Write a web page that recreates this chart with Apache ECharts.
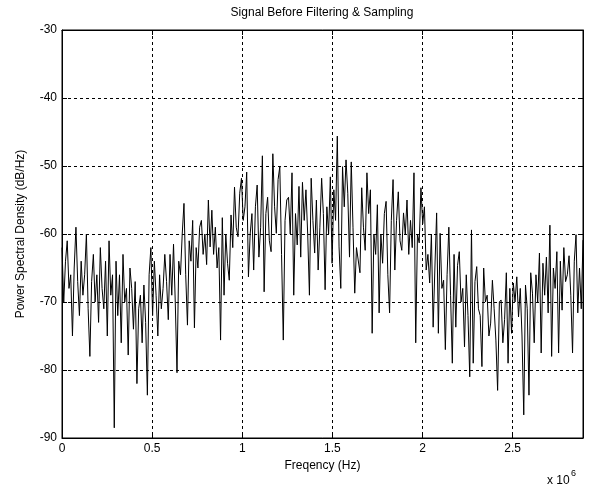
<!DOCTYPE html>
<html>
<head>
<meta charset="utf-8">
<script src="https://cdn.jsdelivr.net/npm/echarts@6/dist/echarts.min.js"></script>
<style>
  html, body { margin: 0; padding: 0; background: #fff; }
  #chart { width: 596px; height: 495px; }
</style>
</head>
<body>
<div id="chart"></div>
<script>
// frequency axis in units of 1e6 Hz
var xMax = 2.89;
var xTicks = [0, 0.5, 1, 1.5, 2, 2.5];
var yTicks = [-90, -80, -70, -60, -50, -40, -30];

// PSD values (dB/Hz), left to right
var psd0 = [-62, -70, -64, -61, -68, -66, -75, -65, -59, -67,
            -72, -64, -69, -66, -60, -71, -78, -67, -63, -70,
            -66, -73, -62, -68, -71, -64, -75, -61, -69, -66];
var psd1 = [-88.5, -64, -72, -66, -76, -63, -70, -68, -77.8, -65,
            -68, -74, -67, -82, -71, -69, -76, -67.5, -73, -83.7,
            -66, -62, -72, -64, -69, -75, -66, -71, -68, -63];
var psd2 = [-67, -72.6, -63, -69, -61.5, -70, -80.4, -64, -66, -60,
            -55.5, -66, -73.4, -61, -64, -58, -73.8, -62, -65, -59,
            -58, -63, -60, -64.5, -55, -61.9, -56.5, -63, -59, -65];
var psd3 = [-62, -75.6, -57.6, -69, -60, -64.3, -66.8, -57.2, -62, -53.1,
            -59, -60.4, -54, -51.8, -58, -56, -50.9, -66.3, -60, -57,
            -65.3, -56, -52.8, -63.4, -59, -48.5, -68.5, -57, -54.6, -61];
var psd4 = [-62.6, -48.2, -56, -59.9, -52, -50.1, -63, -75.6, -58, -55,
            -54.6, -60, -51, -69, -57, -61.6, -53, -63.4, -52.4, -58,
            -53.5, -60, -69, -51.8, -58, -62.8, -55, -65.3, -59, -51.8];
var psd5 = [-57, -68.2, -56, -60, -51.6, -64.3, -53.5, -58, -45.6, -61.9,
            -68, -50.1, -56, -49.1, -54, -63.4, -49.4, -59, -68.7, -62,
            -62, -65.7, -53.2, -59, -62.4, -51, -57, -53.5, -74.6, -60];
var psd6 = [-63, -55.7, -71.6, -60, -64.3, -57, -55.2, -66, -71.6, -58,
            -52, -65.3, -58, -53.8, -61, -62.4, -56.9, -60, -55, -63,
            -58, -62, -51, -76, -60, -61.3, -53.2, -58.5, -56, -65.3];
var psd7 = [-63, -67.2, -60, -73.7, -65, -56.9, -74.6, -59.9, -68, -66.8,
            -77, -66, -59, -69, -79, -63, -73.7, -64.6, -62.6, -70,
            -68, -76.6, -66, -72, -81, -59.4, -79, -67, -64.8, -71];
var psd8 = [-72, -79.5, -65, -70, -69, -75, -73.1, -66.8, -71, -75.6,
            -83, -70, -69.7, -76, -72.6, -65.7, -79, -68, -74.6, -67.2,
            -70, -66.3, -72.2, -68, -75, -86.6, -67.5, -71, -83.7, -65.7];
var psd9 = [-68.7, -76, -66, -70, -62.8, -77.5, -64.3, -69, -63.4, -71.6,
            -58.7, -78, -65, -68, -62.6, -77.5, -64, -71.2, -62, -67,
            -66, -63.2, -69, -77.5, -64, -60.1, -71.6, -65, -71, -60.9];

var psd = [].concat(psd0, psd1, psd2, psd3, psd4, psd5, psd6, psd7, psd8, psd9);
var step = xMax / (psd.length - 1);
var lineData = psd.map(function (v, i) { return [i * step, v]; });

var chart = echarts.init(document.getElementById('chart'));
var font = 'Arial, "Liberation Sans", sans-serif';
var gridLine = { show: true, lineStyle: { color: '#000', width: 1, type: [3, 3] } };

chart.setOption({
  backgroundColor: '#fff',
  animation: false,
  grid: { left: 62, right: 13, top: 30, bottom: 57, show: true, borderColor: '#000', borderWidth: 1 },
  xAxis: [{
    type: 'value', min: 0, max: xMax, interval: 0.5,
    name: 'Freqency (Hz)', nameLocation: 'middle', nameGap: 22,
    nameTextStyle: { fontFamily: font, fontSize: 12, color: '#000' },
    axisLine: { show: true, onZero: false, lineStyle: { color: '#000' } },
    axisTick: { show: true, inside: true, length: 5, lineStyle: { color: '#000' } },
    axisLabel: { color: '#000', fontFamily: font, fontSize: 12, margin: 5, showMaxLabel: false,
      formatter: function (v) { return xTicks.indexOf(v) >= 0 ? String(v) : ''; } },
    splitLine: gridLine
  }, {
    type: 'value', position: 'top', min: 0, max: xMax, interval: 0.5,
    axisLine: { show: true, onZero: false, lineStyle: { color: '#000' } },
    axisTick: { show: true, inside: true, length: 5, lineStyle: { color: '#000' } },
    axisLabel: { show: false }, splitLine: { show: false }
  }],
  yAxis: [{
    type: 'value', min: -90, max: -30, interval: 10,
    name: 'Power Spectral Density (dB/Hz)', nameLocation: 'middle', nameGap: 35,
    nameTextStyle: { fontFamily: font, fontSize: 12, color: '#000' },
    axisLine: { show: true, onZero: false, lineStyle: { color: '#000' } },
    axisTick: { show: true, inside: true, length: 5, lineStyle: { color: '#000' } },
    axisLabel: { color: '#000', fontFamily: font, fontSize: 12, margin: 5,
      formatter: function (v) { return yTicks.indexOf(v) >= 0 ? String(v) : ''; } },
    splitLine: gridLine
  }, {
    type: 'value', position: 'right', min: -90, max: -30, interval: 10,
    axisLine: { show: true, onZero: false, lineStyle: { color: '#000' } },
    axisTick: { show: true, inside: true, length: 5, lineStyle: { color: '#000' } },
    axisLabel: { show: false }, splitLine: { show: false }
  }],
  graphic: [{
    type: 'text', x: 322, y: 7,
    style: { text: 'Signal Before Filtering & Sampling', fill: '#000', font: '12px ' + font, textAlign: 'center' }
  }, {
    type: 'text', x: 547, y: 475,
    style: { text: 'x 10', fill: '#000', font: '12px ' + font }
  }, {
    type: 'text', x: 571, y: 469,
    style: { text: '6', fill: '#000', font: '9px ' + font }
  }],
  series: [{
    type: 'line', data: lineData, showSymbol: false, symbol: 'none',
    lineStyle: { color: '#000', width: 1 }, silent: true
  }]
});
</script>
</body>
</html>
